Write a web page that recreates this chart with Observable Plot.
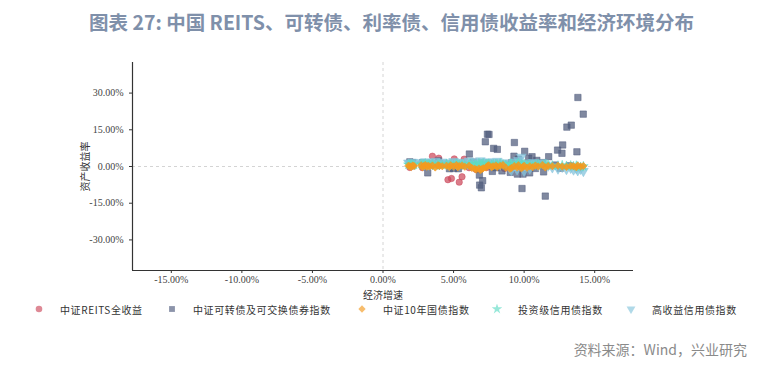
<!DOCTYPE html>
<html><head><meta charset="utf-8">
<script src="https://cdn.jsdelivr.net/npm/d3@7"></script>
<script src="https://cdn.jsdelivr.net/npm/@observablehq/plot@0.6"></script>
<style>
body{margin:0;background:#fff;width:783px;height:368px;overflow:hidden;position:relative;font-family:"Noto Sans CJK SC",sans-serif;}
#title{height:44px;line-height:44px;text-align:center;font-size:19.5px;font-weight:600;color:#7f90aa;white-space:nowrap;}
#chart{height:262px;}
#legend{position:relative;height:18px;margin-top:-6px;}
.li{position:absolute;top:0;height:18px;display:flex;align-items:center;font-size:10px;letter-spacing:0.6px;color:#333;white-space:nowrap;}
.li svg{margin-right:16px;}
#caption{position:absolute;right:36px;top:339px;font-size:14px;line-height:20px;color:#8a8a8a;}
</style></head>
<body>
<div id="title">图表 27: 中国 REITS、可转债、利率债、信用债收益率和经济环境分布</div>
<div id="chart"></div>
<div id="legend"></div>
<div id="caption">资料来源：Wind，兴业研究</div>
<script>
// ---- data ----
const seriesNames = ["中证REITS全收益", "中证可转债及可交换债券指数", "中证10年国债指数", "投资级信用债指数", "高收益信用债指数"];
const seriesColors = ["#cc4a5c", "#4f5b7c", "#f39a1e", "#5fdcc4", "#86c4dc"];
const xTicks = [-15, -10, -5, 0, 5, 10, 15];
const yTicks = [-30, -15, 0, 15, 30];
const xDomain = [-17.75, 17.75];
const yDomain = [-42.5, 42.5];
const xLabel = "经济增速";
const yLabel = "资产收益率";

const reitsGrowth = [1.9, 2.0, 2.8, 2.9, 3.3, 3.5, 3.95, 4.2, 4.6, 4.85, 5.05, 5.4, 5.6, 5.75, 6.1, 6.4, 6.6, 7.0, 7.35, 7.9, 8.6, 9.4, 9.8, 10.5];
const reitsReturn = [-0.4, 0.5, -0.5, 0.3, 0.6, 4.2, 3.4, 0.8, -5.4, -4.9, 3.1, -6.4, -4.2, 3.0, -0.5, 0.9, -1.2, 1.5, -0.4, 0.3, -0.8, 0.5, -0.7, 0.9];

const cbGrowth = [1.9, 2.1, 2.8, 3.17, 3.5, 3.93, 4.4, 4.71, 5.0, 5.34, 5.6, 6.12, 6.4, 6.6, 6.83, 6.85, 6.97, 7.06, 7.2, 7.25, 7.4, 7.51, 7.75, 7.84, 8.0, 8.1, 8.43, 8.8, 9.02, 9.1, 9.28, 9.31, 9.52, 9.6, 9.85, 9.92, 10.04, 10.32, 10.39, 10.56, 10.8, 10.9, 11.0, 11.27, 11.38, 11.5, 11.74, 12.2, 12.37, 12.56, 12.68, 12.73, 13.03, 13.2, 13.34, 13.74, 13.81, 14.19];
const cbReturn = [1.9, 1.6, 1.6, -2.6, 1.2, 2.3, 1.0, -0.9, -0.8, -0.9, 0.4, 5.1, 1.8, 0.5, -3.5, -7.6, -8.7, -5.8, 0.2, 10.1, 13.2, 13.1, -2.0, 7.4, -0.5, 7.0, -1.8, 0.6, -2.4, 1.5, 4.2, 9.8, -3.1, 3.0, -9.0, -3.1, 6.2, 3.4, -2.6, 4.0, -0.8, 2.5, 0.5, 1.6, -2.2, -12.1, 4.0, 0.6, 6.7, -0.7, 5.4, 8.8, 16.1, 0.3, 16.9, 6.0, 28.2, 21.4];

const bondGrowth = [1.8, 1.9, 2.0, 2.1, 2.2, 2.7, 2.8, 2.9, 3.0, 3.1,
  3.2, 3.3, 3.5, 3.7, 3.9, 4.0, 4.2, 4.5, 4.7, 4.8,
  5.0, 5.2, 5.3, 5.4, 5.6, 5.8, 6.1, 6.3, 6.5, 6.6,
  6.8, 6.9, 7.0, 7.1, 7.3, 7.4, 7.5, 7.7, 7.8, 8.0,
  8.1, 8.3, 8.5, 8.7, 9.0, 9.1, 9.3, 9.5, 9.6, 9.8,
  9.9, 10.0, 10.2, 10.4, 10.6, 10.8, 11.0, 11.3, 11.5, 11.7,
  12.0, 12.4, 12.7, 13.0, 13.3, 13.5, 13.7, 13.8, 14.0, 14.2];
const govReturn = [0.3, 0.1, -0.2, 0.4, 0.2, 0.5, -0.3, 0.2, 0.6, -0.1,
  0.3, 0.0, 0.4, -0.4, 0.5, 0.2, 0.1, 0.3, -0.2, 0.5,
  0.0, 0.6, -0.3, 0.2, 0.4, -0.1, 0.3, -0.6, -0.9, -1.3,
  -0.8, -1.5, -1.1, -0.7, -0.4, 0.2, 0.5, -0.3, 0.1, 0.4,
  -0.2, 0.3, 0.6, -0.5, -1.0, -0.6, 0.2, -0.4, 0.5, -0.8,
  -0.2, 0.3, -0.5, 0.1, -0.3, 0.4, 0.0, 0.6, -0.4, 0.2,
  0.1, 0.3, 0.0, -0.2, 0.2, 0.1, -0.3, 0.4, 0.0, 0.2];
const igReturn = [0.8, 0.6, 0.9, 0.5, 0.7, 1.0, 0.6, 0.8, 1.2, 0.5,
  0.9, 0.7, 1.1, 0.4, 0.9, 0.8, 0.6, 1.0, 0.5, 0.9,
  0.7, 1.2, 0.6, 0.8, 1.0, 0.5, 1.1, 0.9, 0.6, 0.8,
  1.3, 0.7, 0.9, 1.2, 1.0, 0.8, 1.1, 0.6, 0.9, 1.0,
  0.7, 1.2, 0.8, 0.5, 0.9, 1.1, 0.6, 1.0, 1.4, 0.8,
  0.6, 1.0, 0.7, 0.9, 0.5, 0.8, 1.0, 0.6, 0.9, 0.7,
  0.4, 0.3, 0.5, 0.2, 0.4, 0.1, 0.3, 0.0, -0.2, 0.1];
const hyReturn = [1.5, 1.2, 0.8, 1.8, 0.9, 1.6, 1.1, 0.6, 2.0, 1.3,
  0.7, 1.7, 1.0, 2.2, 1.4, 0.9, 1.9, 1.2, 0.5, 1.6,
  2.1, 1.0, 1.5, 0.7, 1.8, 1.3, 2.3, 1.1, 0.4, 1.9,
  1.5, 2.4, 0.8, 1.7, 1.2, 2.0, 1.4, 0.6, 1.8, 1.1,
  2.2, 0.9, 1.6, 1.3, -0.8, -1.5, 1.9, -1.2, 2.5, 3.9,
  1.4, -1.8, 1.0, -0.9, 1.7, 1.2, 0.5, 1.6, 0.8, 0.3,
  -0.4, -0.9, -0.2, -1.1, -0.6, -1.3, -0.8, -1.6, -1.0, -1.9];

// ---- build tables ----
const toRows = (xs, ys) => xs.map((x, i) => ({x, y: ys[i]}));
const reits = toRows(reitsGrowth, reitsReturn);
const cb = toRows(cbGrowth, cbReturn);
const gov = toRows(bondGrowth, govReturn);
const ig = toRows(bondGrowth, igReturn);
const hy = toRows(bondGrowth, hyReturn);

const fmt = d => d.toFixed(2) + "%";
const dotStyle = (c, extra) => Object.assign({x: "x", y: "y", fill: c, fillOpacity: 0.72, stroke: c, strokeOpacity: 0.85, strokeWidth: 0.6}, extra);
const cjk = "'Noto Sans CJK SC', sans-serif";
const serif = "'Liberation Serif','Times New Roman',serif";

const chart = Plot.plot({
  width: 783, height: 262,
  marginLeft: 132, marginRight: 150, marginTop: 18, marginBottom: 36,
  style: {fontFamily: serif, fontSize: "10px", color: "#333", background: "#fff"},
  x: {domain: xDomain},
  y: {domain: yDomain},
  marks: [
    Plot.ruleX([0], {stroke: "#d4d4d4", strokeDasharray: "3,3"}),
    Plot.ruleY([0], {stroke: "#d4d4d4", strokeDasharray: "3,3"}),
    Plot.ruleX([xDomain[0]], {stroke: "#333", strokeWidth: 1.2}),
    Plot.ruleY([yDomain[0]], {stroke: "#333", strokeWidth: 1.2}),
    Plot.axisX({ticks: xTicks, tickFormat: fmt, tickSize: 3, tickPadding: 2, label: null, fill: "#444", fontFamily: serif}),
    Plot.axisY({ticks: yTicks, tickFormat: fmt, tickSize: 3, label: null, fill: "#444", fontFamily: serif}),
    Plot.text([xLabel], {frameAnchor: "bottom", lineAnchor: "middle", textAnchor: "middle", dy: 25, fontFamily: cjk, fontSize: 10, fill: "#333"}),
    Plot.text([yLabel], {frameAnchor: "left", lineAnchor: "middle", textAnchor: "middle", dx: -47, rotate: -90, fontFamily: cjk, fontSize: 10, fill: "#333"}),
    Plot.dot(reits, dotStyle(seriesColors[0], {symbol: "circle", r: 3.2})),
    Plot.dot(cb, dotStyle(seriesColors[1], {symbol: "square", r: 3.6})),
    Plot.dot(hy, dotStyle(seriesColors[4], {symbol: "triangle", r: 3.6, rotate: 180, fillOpacity: 0.75})),
    Plot.dot(ig, dotStyle(seriesColors[3], {symbol: "star", r: 3.0})),
    Plot.dot(gov, dotStyle(seriesColors[2], {symbol: "diamond2", r: 3.3, fillOpacity: 0.85}))
  ]
});
document.getElementById("chart").appendChild(chart);

// ---- legend (HTML) ----
const legendLeft = [34, 167, 357, 492, 626];
const legendSymbols = [d3.symbolCircle, d3.symbolSquare, d3.symbolDiamond2 || d3.symbolDiamond, d3.symbolStar, d3.symbolTriangle];
const legendRotate = [0, 0, 0, 0, 180];
const legend = document.getElementById("legend");
seriesNames.forEach((name, i) => {
  const item = document.createElement("div");
  item.className = "li";
  item.style.left = legendLeft[i] + "px";
  const path = d3.symbol(legendSymbols[i], 34)();
  item.innerHTML = `<svg width="10" height="10" viewBox="-5 -5 10 10"><path d="${path}" transform="rotate(${legendRotate[i]})" fill="${seriesColors[i]}" fill-opacity="0.65"/></svg><span>${name}</span>`;
  legend.appendChild(item);
});
</script>
</body></html>
